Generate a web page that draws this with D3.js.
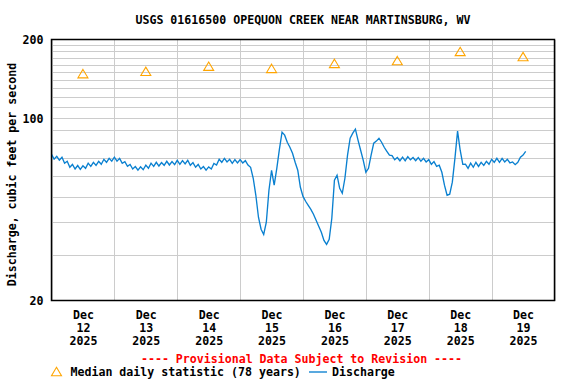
<!DOCTYPE html>
<html>
<head>
<meta charset="utf-8">
<script src="https://cdn.jsdelivr.net/npm/d3@7"></script>
<style>
  html, body { margin: 0; padding: 0; background: #fff; }
  svg { display: block; }
  text { font-family: "DejaVu Sans Mono", monospace; font-weight: bold; font-size: 11.6px; }
</style>
</head>
<body>
<svg id="chart" width="576" height="384"></svg>
<script>
// ---------------- DATA ----------------
const titleText = "USGS 01616500 OPEQUON CREEK NEAR MARTINSBURG, WV";
const yAxisTitle = "Discharge, cubic feet per second";
const provisionalText = "---- Provisional Data Subject to Revision ----";
const legendMedianLabel = "Median daily statistic (78 years)";
const legendDischargeLabel = "Discharge";

const periodStart = "2025-12-12T00:00:00Z";
const periodEnd = "2025-12-20T00:00:00Z";
const dischargeStepHours = 1; // hourly readings starting at periodStart

// Discharge, cfs (hourly, Dec 12 00:00 -> Dec 19 13:00)
const discharge = [
  // Dec 12
  72.6, 69.6, 71.4, 69.0, 70.8, 67.1, 68.3, 64.8, 66.4, 63.8, 65.8, 63.6,
  65.6, 64.2, 67.2, 65.3, 67.7, 65.9, 68.3, 66.5, 69.5, 67.7, 70.1, 68.4,
  // Dec 13
  70.8, 68.4, 70.1, 67.1, 68.1, 65.3, 66.4, 63.8, 65.2, 63.2, 65.0, 63.4,
  66.0, 64.2, 67.2, 65.3, 67.7, 65.5, 67.5, 65.9, 68.3, 66.1, 68.1, 66.3,
  // Dec 14
  68.9, 66.5, 68.7, 66.7, 68.9, 65.9, 67.5, 64.8, 66.4, 63.8, 65.2, 63.2,
  65.0, 63.8, 67.0, 66.1, 69.5, 67.7, 70.1, 67.9, 69.5, 67.1, 69.3, 67.3,
  // Dec 15
  69.3, 67.3, 68.7, 66.1, 64.8, 58.8, 50.6, 41.7, 37.5, 35.8, 39.9, 52.9,
  63.1, 55.3, 64.2, 76.0, 88.3, 86.0, 80.8, 77.3, 73.3, 67.7, 63.1, 54.3,
  // Dec 16
  50.1, 48.0, 46.3, 44.7, 42.8, 40.6, 38.5, 36.5, 34.0, 32.8, 34.3, 41.3,
  57.8, 60.4, 53.8, 51.5, 58.8, 72.1, 83.7, 87.5, 90.7, 82.3, 75.3, 68.9,
  // Dec 17
  62.0, 64.2, 72.1, 80.1, 81.6, 83.7, 80.8, 77.3, 74.6, 72.1, 71.8, 69.2,
  70.6, 68.6, 70.8, 68.6, 71.2, 69.2, 70.6, 68.6, 70.6, 68.4, 70.1, 67.9,
  // Dec 18
  69.3, 66.5, 68.1, 65.3, 66.0, 62.0, 55.3, 50.6, 51.1, 56.8, 70.2, 89.1,
  75.3, 66.5, 66.6, 64.2, 67.2, 64.8, 67.7, 65.3, 67.7, 65.9, 68.3, 66.5,
  // Dec 19
  69.5, 67.7, 70.1, 67.7, 70.1, 67.9, 69.5, 67.3, 67.9, 66.3, 67.7, 70.8,
  72.1, 74.6
];

// Median daily statistic (plotted at noon of each day)
const medianDates = ["2025-12-12", "2025-12-13", "2025-12-14", "2025-12-15",
                     "2025-12-16", "2025-12-17", "2025-12-18", "2025-12-19"];
const medianValues = [148, 151, 158, 155, 162, 166, 180, 172];

const yLabelValues = [20, 100, 200];
const yGridValues = [30, 40, 50, 60, 70, 80, 90, 100, 110, 120, 130, 140, 150, 160, 170, 180, 190];

// ---------------- LAYOUT ----------------
const plot = { left: 51.5, right: 554.5, top: 39.5, bottom: 300.5 };
const colors = { grid: "#cccccc", line: "#0a80d0", median: "#ffa500", red: "#ff0000" };

const svg = d3.select("#chart");

const x = d3.scaleUtc()
  .domain([new Date(periodStart), new Date(periodEnd)])
  .range([plot.left, plot.right]);

const y = d3.scaleLog()
  .domain([20, 200])
  .range([plot.bottom, plot.top]);

const dischargeData = discharge.map((v, i) => ({
  t: new Date(new Date(periodStart).getTime() + i * dischargeStepHours * 3600e3),
  v
}));
const medianData = medianDates.map((d, i) => ({
  t: d3.utcHour.offset(new Date(d + "T00:00:00Z"), 12),
  v: medianValues[i]
}));

// Horizontal grid
svg.append("g")
  .attr("transform", `translate(${plot.left},0)`)
  .call(d3.axisLeft(y).tickValues(yGridValues).tickSize(-(plot.right - plot.left)).tickFormat(""))
  .call(g => g.select(".domain").remove())
  .call(g => g.selectAll("line").attr("stroke", colors.grid).attr("stroke-width", 1)
    .attr("shape-rendering", "crispEdges"));

// Vertical grid (day boundaries)
svg.append("g")
  .attr("transform", `translate(0,${plot.bottom})`)
  .call(d3.axisBottom(x).ticks(d3.utcDay.every(1)).tickSize(-(plot.bottom - plot.top)).tickFormat(""))
  .call(g => g.select(".domain").remove())
  .call(g => g.selectAll("line").attr("stroke", colors.grid).attr("stroke-width", 1)
    .attr("shape-rendering", "crispEdges"));

// Discharge line
const line = d3.line().x(d => x(d.t)).y(d => y(d.v));
svg.append("path")
  .datum(dischargeData)
  .attr("fill", "none")
  .attr("stroke", colors.line)
  .attr("stroke-width", 1.35)
  .attr("stroke-linejoin", "miter")
  .attr("d", line);

// Median triangles
const tri = "M0,-4.2L5,4.2L-5,4.2Z";
svg.append("g").selectAll("path")
  .data(medianData)
  .join("path")
  .attr("transform", d => `translate(${x(d.t)},${y(d.v)})`)
  .attr("d", tri)
  .attr("fill", "none")
  .attr("stroke", colors.median)
  .attr("stroke-width", 1.1);

// Plot frame
svg.append("rect")
  .attr("x", plot.left).attr("y", plot.top)
  .attr("width", plot.right - plot.left).attr("height", plot.bottom - plot.top)
  .attr("fill", "none").attr("stroke", "#000").attr("stroke-width", 1.5);

// Y labels
svg.append("g")
  .attr("transform", `translate(${plot.left - 8},0)`)
  .call(d3.axisLeft(y).tickValues(yLabelValues).tickSize(0).tickPadding(0).tickFormat(d3.format("d")))
  .call(g => g.select(".domain").remove())
  .call(g => g.selectAll("text")
    .attr("fill", "#000")
    .attr("dy", "0.36em")
    .style("font-family", "'DejaVu Sans Mono', monospace")
    .style("font-weight", "bold")
    .style("font-size", "11.6px"));

// X labels: three lines at noon of each day
const labelDays = d3.utcDay.range(new Date(periodStart), new Date(periodEnd)).map(d => d3.utcHour.offset(d, 12));
const xl = svg.append("g")
  .attr("transform", `translate(0,${plot.bottom})`)
  .call(d3.axisBottom(x).tickValues(labelDays).tickSize(0).tickFormat(""))
  .call(g => g.select(".domain").remove());
xl.selectAll(".tick").each(function(d) {
  const t = d3.select(this).append("text")
    .attr("fill", "#000").attr("text-anchor", "middle");
  [d3.utcFormat("%b")(d), d3.utcFormat("%d")(d), d3.utcFormat("%Y")(d)].forEach((s, i) => {
    t.append("tspan").attr("x", 0).attr("y", 18 + i * 13).text(s);
  });
});

// Title
svg.append("text")
  .attr("x", (plot.left + plot.right) / 2).attr("y", 24)
  .attr("text-anchor", "middle").attr("fill", "#000")
  .text(titleText);

// Y axis title
svg.append("text")
  .attr("transform", "translate(16,174.5) rotate(-90)")
  .attr("text-anchor", "middle").attr("fill", "#000")
  .text(yAxisTitle);

// Provisional note
svg.append("text")
  .attr("x", 301.5).attr("y", 363)
  .attr("text-anchor", "middle").attr("fill", colors.red)
  .text(provisionalText);

// Legend
const lg = svg.append("g");
lg.append("path")
  .attr("transform", "translate(56.5,371.5)")
  .attr("d", tri)
  .attr("fill", "none").attr("stroke", colors.median).attr("stroke-width", 1.1);
lg.append("text").attr("x", 70.5).attr("y", 376).attr("fill", "#000").text(legendMedianLabel);
lg.append("line").attr("x1", 309).attr("x2", 327).attr("y1", 372).attr("y2", 372)
  .attr("stroke", colors.line).attr("stroke-width", 1.35);
lg.append("text").attr("x", 332).attr("y", 376).attr("fill", "#000").text(legendDischargeLabel);
</script>
</body>
</html>
